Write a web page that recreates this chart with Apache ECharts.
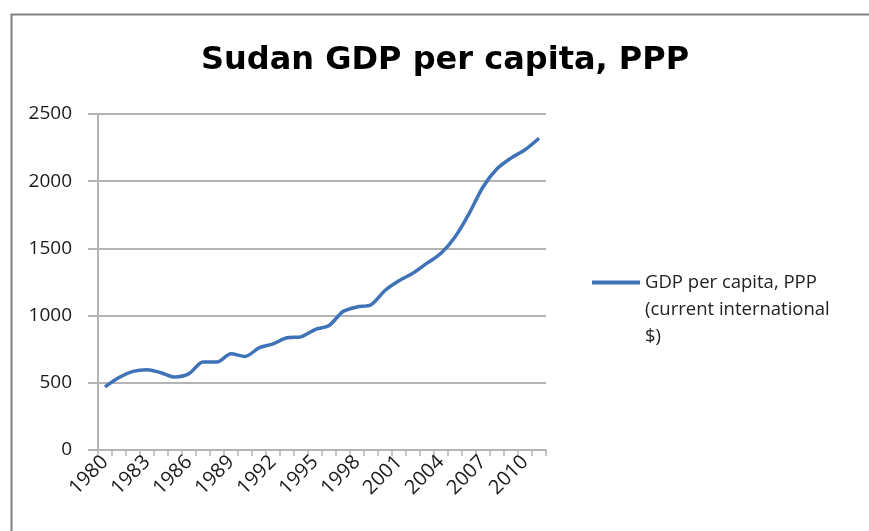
<!DOCTYPE html>
<html>
<head>
<meta charset="utf-8">
<script src="https://cdn.jsdelivr.net/npm/echarts@6/dist/echarts.min.js"></script>
<style>
html,body{margin:0;padding:0;background:#fff;}
#c{width:869px;height:531px;}
</style>
</head>
<body>
<div id="c"></div>
<script>
var titleText = 'Sudan GDP per capita, PPP';
var seriesName = 'GDP per capita, PPP (current international $)';
var legendLines = ['GDP per capita, PPP', '(current international', '$)'];
var years = ['1980','1981','1982','1983','1984','1985','1986','1987','1988','1989','1990',
  '1991','1992','1993','1994','1995','1996','1997','1998','1999','2000',
  '2001','2002','2003','2004','2005','2006','2007','2008','2009','2010','2011'];
var gdpValues = [470, 540, 585, 598, 575, 543, 568, 655, 654, 716, 696,
  760, 790, 835, 842, 896, 926, 1030, 1064, 1081, 1187,
  1259, 1316, 1390, 1464, 1585, 1758, 1957, 2092, 2172, 2234, 2320];
var yTicks = [0, 500, 1000, 1500, 2000, 2500];

var chart = echarts.init(document.getElementById('c'), null, {renderer:'canvas'});
var font = '"Open Sans", Lato, sans-serif';
chart.setOption({
  animation: false,
  backgroundColor: '#fff',
  title: {
    text: titleText,
    left: 196,
    top: 40,
    textStyle: {fontFamily: '"DejaVu Sans", sans-serif', fontSize: 32, fontWeight: 'bold', color: '#000'}
  },
  graphic: [{
    type: 'rect', left: 9, top: 12, silent: true,
    shape: {width: 900, height: 600},
    style: {fill: 'none', stroke: '#808080', lineWidth: 2}
  }],
  legend: {
    left: 587, top: 210,
    itemWidth: 48, itemHeight: 4,
    icon: 'rect',
    data: [seriesName],
    formatter: function(){ return ' \n \n' + legendLines.join('\n'); },
    textStyle: {fontFamily: font, fontSize: 18.5, color: '#222', lineHeight: 27}
  },
  grid: {left: 98, right: 323, top: 114, bottom: 81, containLabel: false},
  xAxis: {
    type: 'category',
    data: years,
    boundaryGap: true,
    axisLine: {lineStyle: {color: '#b4b4b4', width: 2}},
    axisTick: {show: true, interval: 0, length: 6, lineStyle: {color: '#b4b4b4', width: 1.5}},
    axisLabel: {interval: 2, rotate: 45, margin: 9, fontFamily: font, fontSize: 20, color: '#1a1a1a'}
  },
  yAxis: {
    type: 'value',
    min: yTicks[0], max: yTicks[yTicks.length-1], interval: 500,
    axisLine: {show: true, lineStyle: {color: '#b4b4b4', width: 2}},
    axisTick: {show: true, length: 10, lineStyle: {color: '#b4b4b4', width: 2}},
    splitLine: {lineStyle: {color: '#b4b4b4', width: 2}},
    axisLabel: {margin: 26, fontFamily: font, fontSize: 19, color: '#1a1a1a',
      formatter: function(v){ return String(v); }}
  },
  series: [{
    name: seriesName,
    type: 'line',
    data: gdpValues,
    smooth: 0.3,
    showSymbol: false,
    symbol: 'none',
    lineStyle: {color: '#3f73b8', width: 3.5},
    itemStyle: {color: '#3f73b8'}
  }]
});
</script>
</body>
</html>
